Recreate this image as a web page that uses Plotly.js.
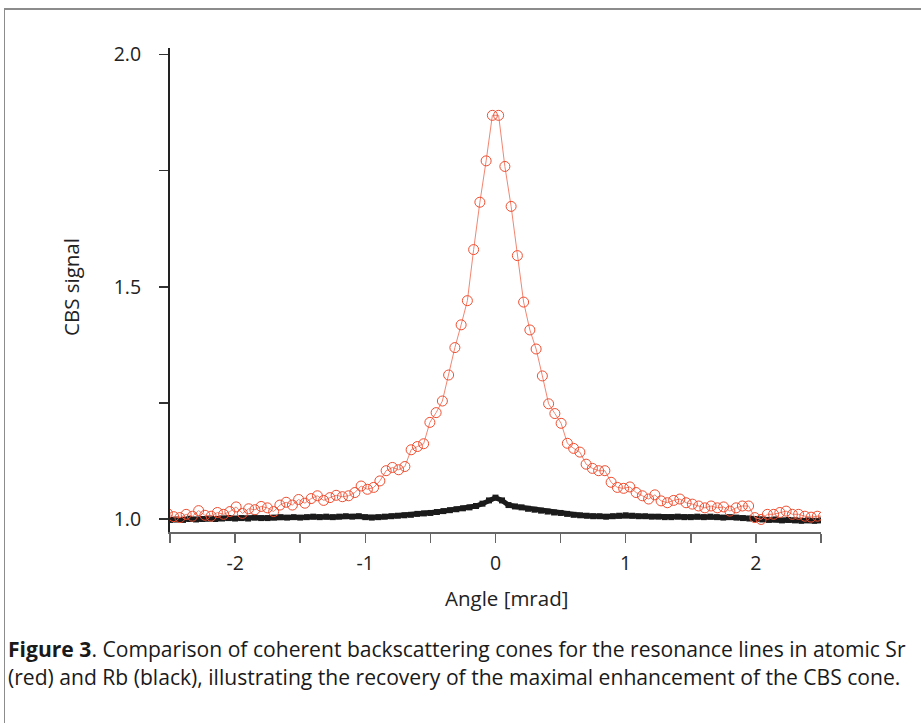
<!DOCTYPE html>
<html>
<head>
<meta charset="utf-8">
<script src="https://cdn.plot.ly/plotly-3.0.1.min.js"></script>
<style>
  html, body { margin: 0; padding: 0; background: #fff; }
  #wrap { position: relative; width: 921px; height: 723px; overflow: hidden; }
  #chart { position: absolute; left: 0; top: 0; width: 921px; height: 723px; }
  #frame { position: absolute; left: 4px; top: 8px; width: 940px; height: 760px;
           border-top: 2px solid #8c8c8c; border-left: 1px solid #8c8c8c; pointer-events: none; }
</style>
</head>
<body>
<div id="wrap"><div id="chart"></div><div id="frame"></div></div>
<script>
// Sr (red) data: angle [mrad] and CBS signal
const srAngle = [
  -2.520, -2.472, -2.424, -2.376, -2.328, -2.280, -2.232, -2.184, -2.136, -2.088,
  -2.040, -1.992, -1.944, -1.896, -1.848, -1.800, -1.752, -1.704, -1.656, -1.608,
  -1.560, -1.512, -1.464, -1.416, -1.368, -1.320, -1.272, -1.224, -1.176, -1.128,
  -1.080, -1.032, -0.984, -0.936, -0.888, -0.840, -0.792, -0.744, -0.696, -0.648,
  -0.600, -0.552, -0.504, -0.456, -0.408, -0.360, -0.312, -0.264, -0.216, -0.168,
  -0.120, -0.072, -0.024,
   0.024,  0.072,  0.120,  0.168,  0.216,  0.264,  0.312,  0.360,  0.408,  0.456,
   0.504,  0.552,  0.600,  0.648,  0.696,  0.744,  0.792,  0.840,  0.888,  0.936,
   0.984,  1.032,  1.080,  1.128,  1.176,  1.224,  1.272,  1.320,  1.368,  1.416,
   1.464,  1.512,  1.560,  1.608,  1.656,  1.704,  1.752,  1.800,  1.848,  1.896,
   1.944,  1.992,  2.040,  2.088,  2.136,  2.184,  2.232,  2.280,  2.328,  2.376,
   2.424,  2.472,  2.520
];
const srSignal = [
  1.012, 1.005, 1.003, 1.010, 1.006, 1.018, 1.008, 1.006, 1.014, 1.010,
  1.016, 1.026, 1.012, 1.022, 1.020, 1.027, 1.024, 1.016, 1.030, 1.036,
  1.030, 1.042, 1.034, 1.044, 1.050, 1.040, 1.046, 1.051, 1.048, 1.050,
  1.057, 1.071, 1.064, 1.068, 1.082, 1.104, 1.111, 1.106, 1.113, 1.149,
  1.156, 1.162, 1.208, 1.229, 1.254, 1.310, 1.369, 1.418, 1.470, 1.580,
  1.682, 1.771, 1.869,
  1.869, 1.759, 1.673, 1.567, 1.467, 1.407, 1.366, 1.308, 1.248, 1.227,
  1.206, 1.163, 1.152, 1.144, 1.118, 1.109, 1.104, 1.104, 1.079, 1.068,
  1.066, 1.069, 1.057, 1.050, 1.043, 1.052, 1.039, 1.035, 1.040, 1.043,
  1.035, 1.032, 1.028, 1.024, 1.028, 1.024, 1.026, 1.017, 1.024, 1.028,
  1.028, 1.003, 0.999, 1.010, 1.010, 1.014, 1.017, 1.010, 1.010, 1.006,
  1.004, 1.006, 1.006
];

// Rb (black) data
const rbAngle = [
  -2.50, -2.45, -2.40, -2.35, -2.30, -2.25, -2.20, -2.15, -2.10, -2.05,
  -2.00, -1.95, -1.90, -1.85, -1.80, -1.75, -1.70, -1.65, -1.60, -1.55,
  -1.50, -1.45, -1.40, -1.35, -1.30, -1.25, -1.20, -1.15, -1.10, -1.05,
  -1.00, -0.95, -0.90, -0.85, -0.80, -0.75, -0.70, -0.65, -0.60, -0.55,
  -0.50, -0.45, -0.40, -0.35, -0.30, -0.25, -0.20, -0.15, -0.10, -0.05,
   0.00,
   0.05,  0.10,  0.15,  0.20,  0.25,  0.30,  0.35,  0.40,  0.45,  0.50,
   0.55,  0.60,  0.65,  0.70,  0.75,  0.80,  0.85,  0.90,  0.95,  1.00,
   1.05,  1.10,  1.15,  1.20,  1.25,  1.30,  1.35,  1.40,  1.45,  1.50,
   1.55,  1.60,  1.65,  1.70,  1.75,  1.80,  1.85,  1.90,  1.95,  2.00,
   2.05,  2.10,  2.15,  2.20,  2.25,  2.30,  2.35,  2.40,  2.45,  2.50
];
const rbSignal = [
  0.998, 0.999, 0.998, 1.000, 0.999, 1.000, 1.001, 1.000, 1.001, 1.002,
  1.001, 1.002, 1.001, 1.003, 1.002, 1.002, 1.003, 1.004, 1.003, 1.004,
  1.003, 1.004, 1.005, 1.004, 1.005, 1.004, 1.005, 1.006, 1.005, 1.006,
  1.004, 1.003, 1.004, 1.005, 1.006, 1.007, 1.008, 1.009, 1.011, 1.012,
  1.013, 1.015, 1.017, 1.019, 1.021, 1.023, 1.025, 1.028, 1.033, 1.040,
  1.046,
  1.040, 1.030, 1.027, 1.025, 1.022, 1.020, 1.018, 1.016, 1.014, 1.013,
  1.011, 1.009, 1.008, 1.007, 1.006, 1.006, 1.005, 1.006, 1.007, 1.008,
  1.007, 1.006, 1.006, 1.005, 1.005, 1.004, 1.004, 1.005, 1.004, 1.004,
  1.005, 1.004, 1.005, 1.004, 1.003, 1.004, 1.003, 1.002, 1.001, 1.000,
  0.999, 0.998, 0.999, 0.997, 0.998, 0.997, 0.996, 0.997, 0.996, 0.997
];

const xTickVals = [-2, -1, 0, 1, 2];
const xTickText = ['-2', '-1', '0', '1', '2'];
const yTickVals = [1.0, 1.5, 2.0];
const yTickText = ['1.0', '1.5', '2.0'];

const captionLine1 = '<b>Figure 3</b>. Comparison of coherent backscattering cones for the resonance lines in atomic Sr';
const captionLine2 = '(red) and Rb (black), illustrating the recovery of the maximal enhancement of the CBS cone.';

// plot area in pixels
const L = 170, R = 821, T = 48, B = 532;
const W = 921, H = 723;
const px = v => (v - L) / (R - L);
const py = v => (B - v) / (B - T);

const FONT = 'Open Sans, Noto Sans, sans-serif';

const traces = [
  {
    x: rbAngle, y: rbSignal, type: 'scatter', mode: 'lines+markers',
    line: { color: '#1b1b1b', width: 5 },
    marker: { symbol: 'square', size: 6, color: '#1b1b1b' },
    hoverinfo: 'skip', showlegend: false
  },
  {
    x: srAngle, y: srSignal, type: 'scatter', mode: 'lines+markers',
    line: { color: '#f28672', width: 1 },
    marker: { symbol: 'circle-open', size: 10, color: '#f04e30', line: { width: 1, color: '#f04e30' } },
    hoverinfo: 'skip', showlegend: false
  }
];

const layout = {
  width: W, height: H,
  margin: { l: L, r: W - R, t: T, b: H - B, pad: 0 },
  paper_bgcolor: '#ffffff', plot_bgcolor: '#ffffff',
  font: { family: FONT, color: '#222222', size: 19 },
  xaxis: {
    range: [-2.5, 2.5], showgrid: false, zeroline: false,
    showline: true, linecolor: '#666666', linewidth: 1.5,
    ticks: 'outside', ticklen: 9, tickwidth: 1.5, tickcolor: '#666666',
    tickvals: xTickVals, ticktext: xTickText,
    tickfont: { family: FONT, size: 19.5, color: '#222222' },
    ticklabelstandoff: 4,
    minor: { dtick: 0.5, ticks: 'outside', ticklen: 9, tickwidth: 1.5, tickcolor: '#666666', showgrid: false },
    fixedrange: true
  },
  yaxis: {
    range: [0.972, 2.014], showgrid: false, zeroline: false,
    showline: true, linecolor: '#222222', linewidth: 2,
    ticks: 'outside', ticklen: 9, tickwidth: 1.5, tickcolor: '#333333',
    tickvals: yTickVals, ticktext: yTickText,
    tickfont: { family: FONT, size: 19.5, color: '#222222' },
    ticklabelstandoff: 14,
    minor: { dtick: 0.25, ticks: 'outside', ticklen: 9, tickwidth: 1.5, tickcolor: '#333333', showgrid: false },
    fixedrange: true
  },
  annotations: [
    { text: 'CBS signal', xref: 'paper', yref: 'paper', x: px(71), y: py(287),
      xanchor: 'center', yanchor: 'middle', textangle: -90, showarrow: false,
      font: { family: FONT, size: 20.5, color: '#222222' } },
    { text: 'Angle [mrad]', xref: 'paper', yref: 'paper', x: px(506), y: py(598),
      xanchor: 'center', yanchor: 'middle', showarrow: false,
      font: { family: FONT, size: 20.5, color: '#222222' } },
    { text: captionLine1, xref: 'paper', yref: 'paper', x: px(6), y: py(648),
      xanchor: 'left', yanchor: 'middle', showarrow: false, align: 'left',
      font: { family: FONT, size: 21.1, color: '#1a1a1a' } },
    { text: captionLine2, xref: 'paper', yref: 'paper', x: px(6), y: py(676),
      xanchor: 'left', yanchor: 'middle', showarrow: false, align: 'left',
      font: { family: FONT, size: 21.1, color: '#1a1a1a' } }
  ]
};

Plotly.newPlot('chart', traces, layout, { staticPlot: true, displayModeBar: false });
</script>
</body>
</html>
